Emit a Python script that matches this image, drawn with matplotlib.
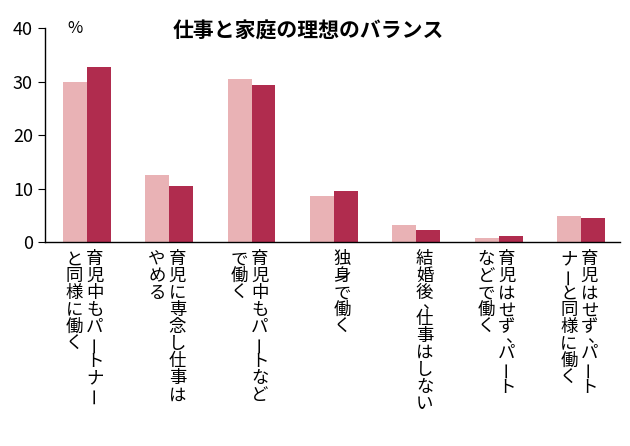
import matplotlib
matplotlib.use("Agg")
import matplotlib.pyplot as plt
import numpy as np

plt.rcParams["font.family"] = "Noto Sans CJK JP"

# Each category: list of vertical columns, right column first
categories = [
    ["育児中もパートナー", "と同様に働く"],
    ["育児に専念し仕事は", "やめる"],
    ["育児中もパートなど", "で働く"],
    ["独身で働く"],
    ["結婚後、仕事はしない"],
    ["育児はせず、パート", "などで働く"],
    ["育児はせず、パート", "ナーと同様に働く"],
]
series_a = [30.0, 12.5, 30.5, 8.7, 3.3, 0.7, 4.9]
series_b = [32.8, 10.5, 29.3, 9.6, 2.3, 1.2, 4.6]
yticks = [0, 10, 20, 30, 40]
title = "仕事と家庭の理想のバランス"

fig = plt.figure(figsize=(6.3, 4.46), dpi=100)
ax = fig.add_axes([0.071, 0.457, 0.913, 0.48])
x = np.arange(len(categories))
w = 0.29
ax.bar(x - w/2, series_a, w, color="#e9b2b5", edgecolor="none")
ax.bar(x + w/2, series_b, w, color="#b02c4e", edgecolor="none")
ax.set_xlim(-0.51, 6.47)
ax.set_ylim(0, 40)
ax.set_yticks(yticks)
ax.tick_params(axis="y", labelsize=13, length=5, direction="out")
ax.set_xticks([])
for s in ["top", "right"]:
    ax.spines[s].set_visible(False)
ax.spines["left"].set_linewidth(1)
ax.spines["bottom"].set_linewidth(1)
ax.text(0.04, 40, "%", fontsize=12, va="center", ha="left", transform=ax.get_yaxis_transform())
fig.text(0.49, 0.93, title, fontsize=15, fontweight="bold", ha="center", va="center")

# vertical Japanese labels
trans = ax.get_xaxis_transform()
step = 17 / (446 * 0.48)  # axes-fraction per char
for i, cols in enumerate(categories):
    for j, col in enumerate(cols):
        cx = i + 0.1 - j * 0.25
        k = 0
        for ch in col:
            if ch == "、":
                ax.text(cx + 0.08, -0.08 - (k - 1) * step - step * 0.55, ch,
                        transform=trans, fontsize=12.5, ha="center", va="center",
                        clip_on=False)
                k += 0.5
                continue
            y = -0.08 - k * step
            rot = 90 if ch == "ー" else 0
            ax.text(cx, y, ch, transform=trans, fontsize=12.5, ha="center",
                    va="center", rotation=rot, clip_on=False)
            k += 1

fig.savefig("out.png", dpi=100)
